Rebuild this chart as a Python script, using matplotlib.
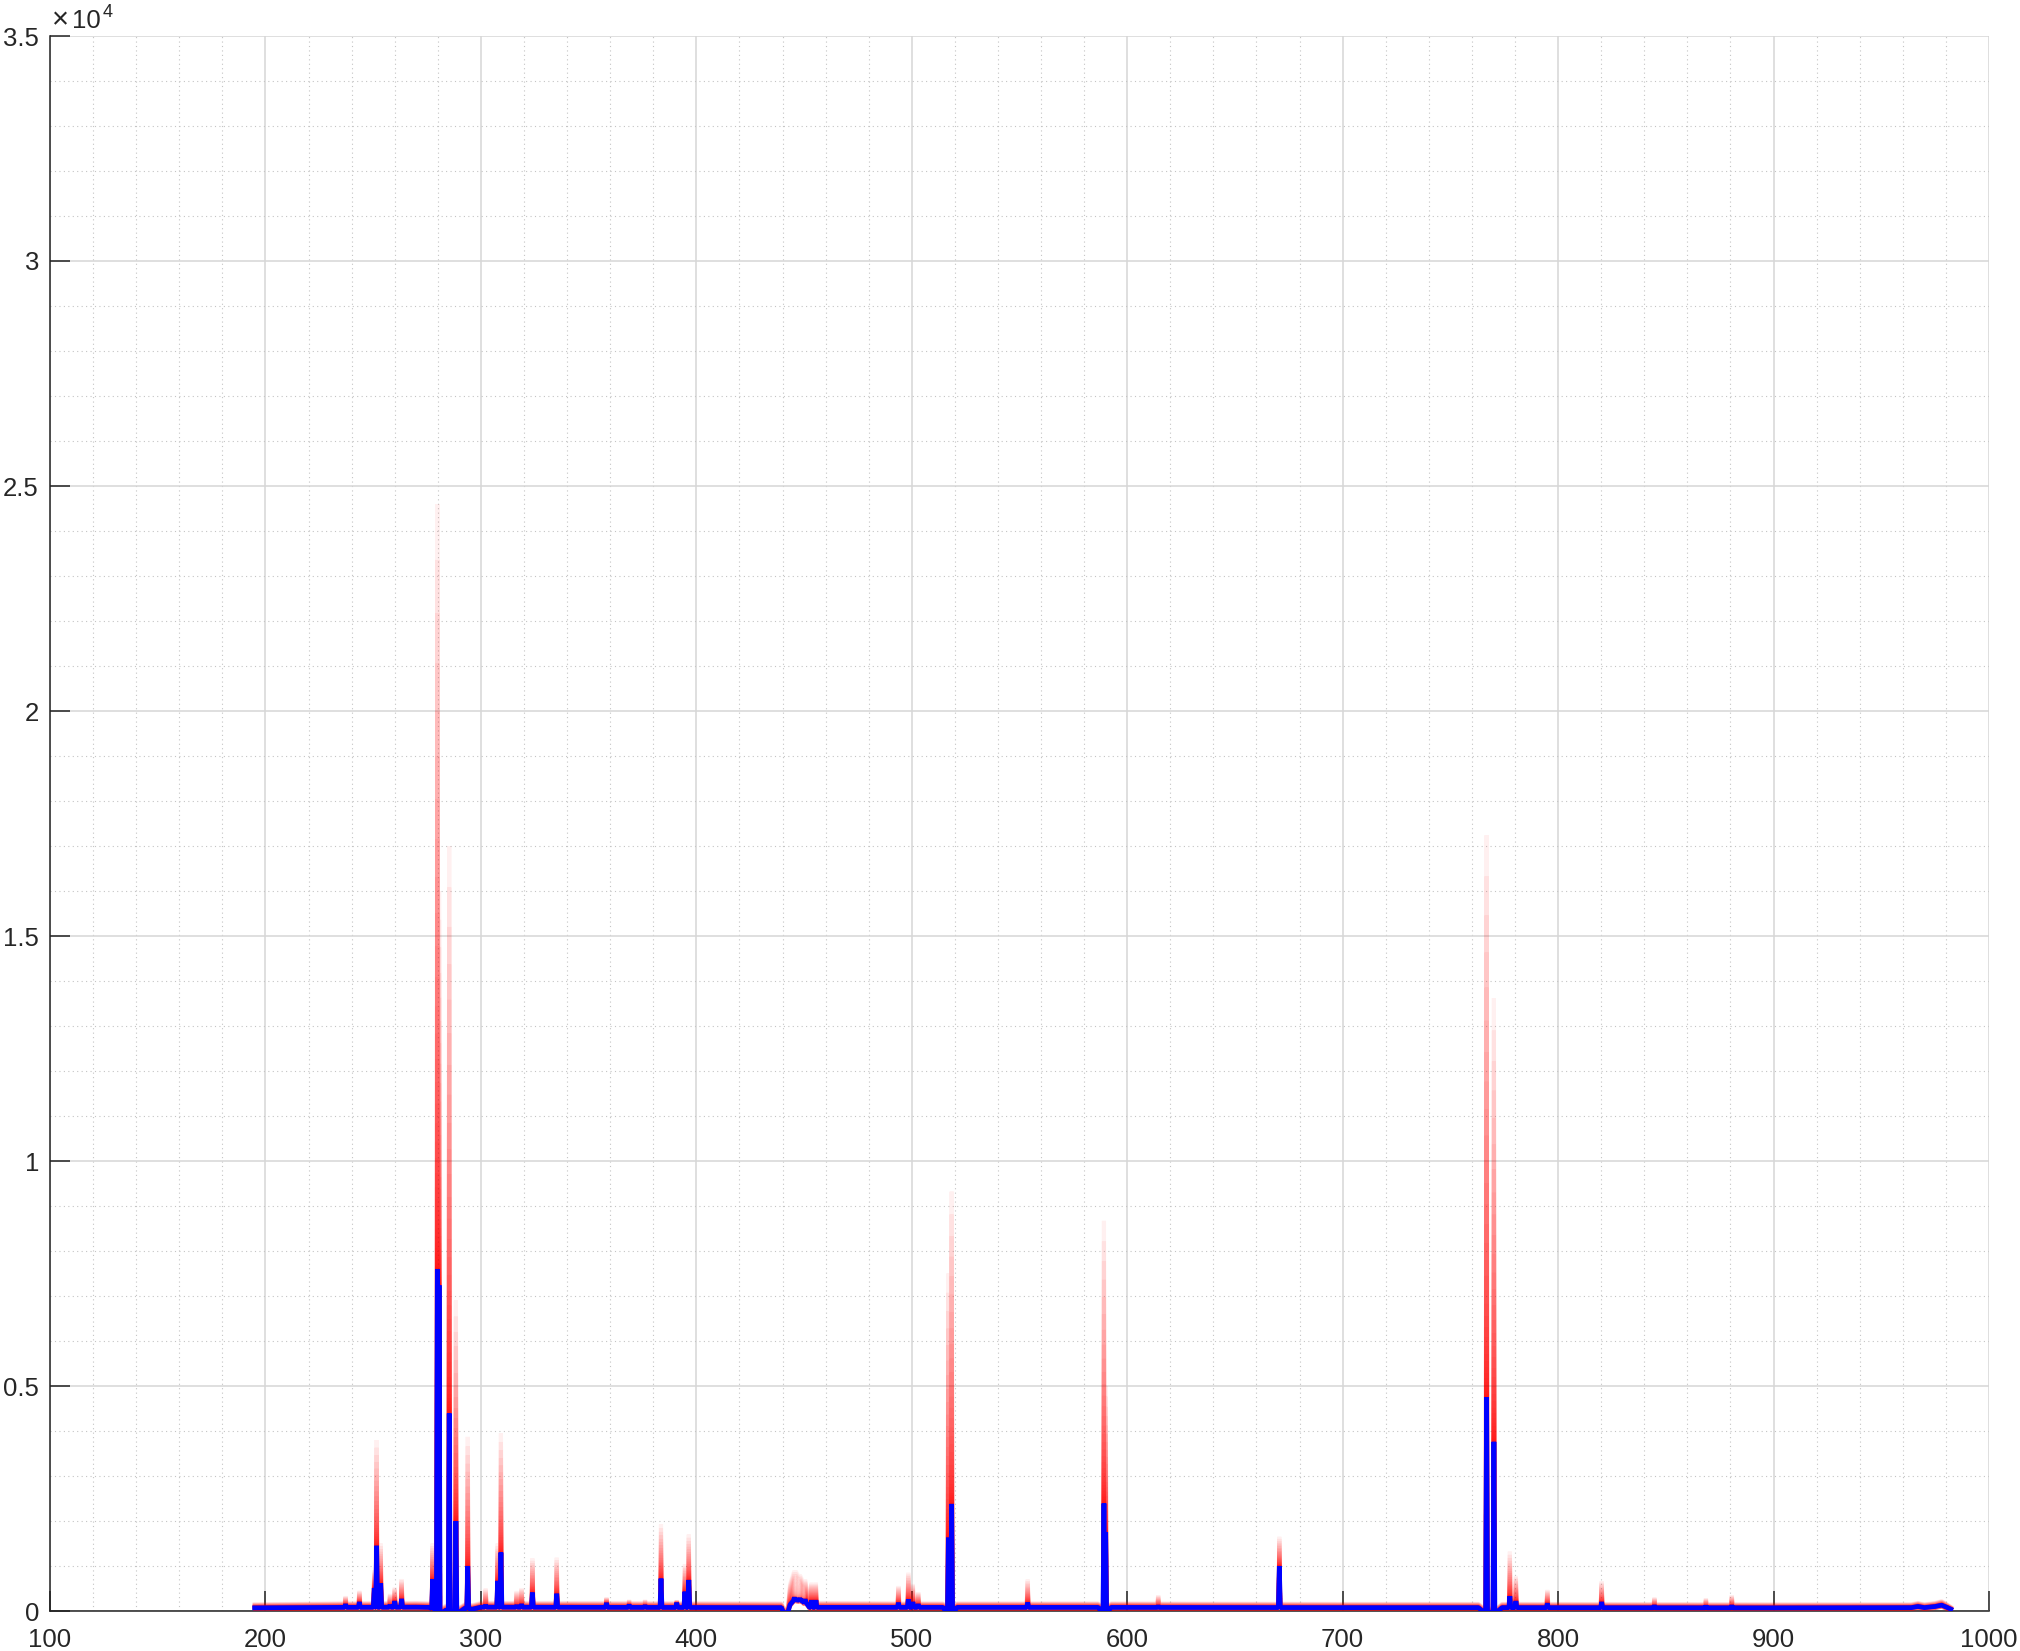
import numpy as np
import matplotlib
matplotlib.use("Agg")
import matplotlib.pyplot as plt
from matplotlib.ticker import MultipleLocator, FuncFormatter

plt.rcParams['font.family'] = ['Liberation Sans', 'DejaVu Sans']

# ---------------- data ----------------
# baseline of the mean spectrum (nm, counts) and max over shots on the baseline
base_nm = [195.0, 230.0, 270.0, 276.0, 282.2, 283.8, 286.8, 290.5, 292.5, 296.0,
           300.0, 439.5, 440.5, 442.5, 443.5, 446.0, 449.0, 451.5, 452.5, 500.0,
           514.5, 516.0, 519.6, 521.0, 586.5, 588.2, 591.0, 592.5, 700.0, 763.0,
           765.6, 768.5, 771.5, 774.0, 900.0, 964.0, 967.0, 970.0, 975.0, 978.0,
           980.5, 982.3]
base_mean = [70, 80, 85, 80, -30, 20, -30, -10, 60, 40,
             85, 75, -40, -30, 140, 250, 230, 150, 80, 80,
             80, -20, -20, 80, 80, -20, -20, 80, 75, 75,
             -30, -30, -30, 75, 70, 75, 100, 75, 100, 130,
             80, 40]
base_max = [150, 170, 180, 170, 80, 120, 70, 90, 150, 130,
            180, 170, 60, 70, 600, 890, 700, 500, 180, 170,
            170, 80, 80, 170, 170, 80, 80, 170, 160, 160,
            60, 60, 60, 160, 150, 150, 180, 150, 180, 220,
            150, 90]

# emission lines: position (nm), mean intensity (blue), max over shots (red)
peak_nm = [237.2, 243.6, 250.5, 251.6, 253.5, 257.8, 260.0, 263.2,
           277.6, 279.8, 280.6, 285.3, 288.4, 293.9, 302.2, 307.8, 309.3,
           316.6, 318.9, 323.9, 335.2, 358.3, 368.8, 376.2, 383.6, 390.9,
           394.7, 396.5, 445.5, 448.0, 450.5, 453.5, 455.5, 493.8, 498.4,
           500.5, 503.0, 517.0, 518.5, 553.8, 589.2, 590.0, 614.4, 670.6,
           766.8, 770.2, 777.6, 780.4, 795.0, 820.2, 844.7, 868.6, 880.6]
peak_mean = [150, 200, 510, 1450, 620, 130, 220, 270,
             710, 7600, 7240, 4390, 2000, 1000, 130, 670, 1300,
             120, 150, 410, 385, 180, 140, 120, 720, 185,
             430, 690, 300, 280, 260, 240, 240, 185, 260,
             200, 150, 1630, 2380, 190, 2390, 1750, 110, 1000,
             4750, 3760, 330, 220, 170, 200, 120, 110, 120]
peak_max = [330, 450, 900, 3800, 1500, 380, 520, 710,
            1500, 24600, 16000, 17000, 6900, 3870, 500, 1500, 3950,
            445, 510, 1170, 1185, 300, 240, 240, 1930, 230,
            1045, 1700, 890, 800, 700, 630, 630, 556, 850,
            600, 420, 7500, 9320, 700, 8670, 5000, 350, 1650,
            17240, 13620, 1320, 780, 470, 660, 300, 280, 350]

# ---------------- assemble the line vertices ----------------
half_w = 0.45
xs, ym, yx = [], [], []
for b_x, b_y, b_m in zip(base_nm, base_mean, base_max):
    xs.append(b_x); ym.append(b_y); yx.append(b_m)
for p, m, mx in zip(peak_nm, peak_mean, peak_max):
    b = float(np.interp(p, base_nm, base_mean))
    bm = float(np.interp(p, base_nm, base_max))
    for dx, v, vm in ((-half_w, b, bm), (0.0, m, mx), (half_w, b, bm)):
        xs.append(p + dx); ym.append(v); yx.append(vm)
order = np.argsort(xs, kind="stable")
xs = np.array(xs)[order]
ym = np.array(ym, float)[order]
yx = np.array(yx, float)[order]

# ---------------- figure ----------------
fig = plt.figure(figsize=(20.2, 16.51), dpi=100)
ax = fig.add_axes([50 / 2020, 40 / 1651, 1939 / 2020, 1575 / 1651])

# red: spread of the individual shots, drawn as a fading stack
ax.plot(xs, ym - 45, color=(1, 0, 0), lw=2.2, alpha=0.6,
        solid_joinstyle='bevel', zorder=3)
n_lev = 40
for k in range(n_lev):
    f = ((k + 1) / n_lev) ** 3
    ax.plot(xs, ym + (yx - ym) * f, color=(1, 0, 0), lw=3.0, alpha=0.06,
            solid_joinstyle='bevel', zorder=3)
# blue: mean spectrum
ax.plot(xs, ym, color=(0, 0, 1), lw=3.4, solid_joinstyle='bevel', zorder=4)

ax.set_xlim(100, 1000)
ax.set_ylim(0, 35000)
ax.xaxis.set_major_locator(MultipleLocator(100))
ax.xaxis.set_minor_locator(MultipleLocator(20))
ax.yaxis.set_major_locator(MultipleLocator(5000))
ax.yaxis.set_minor_locator(MultipleLocator(1000))
ax.yaxis.set_major_formatter(FuncFormatter(lambda v, p: f"{v / 1e4:g}"))

ax.set_axisbelow(True)
ax.grid(which='major', color='#d6d6d6', lw=1.1)
ax.grid(which='minor', color='#c4c4c4', lw=0.8, ls=(0, (1, 3)))

for s in ('top', 'right'):
    ax.spines[s].set_visible(False)
for s in ('left', 'bottom'):
    ax.spines[s].set_color('#222222')
    ax.spines[s].set_linewidth(1.1)

ax.tick_params(which='major', direction='in', length=14.5, width=1.1,
               color='#222222', labelsize=18.5, labelcolor='#262626', pad=8)
ax.tick_params(which='minor', length=0)
ax.tick_params(axis='x', pad=12)

# exponent label of the y axis
fig.text(52 / 2020, 1 - 28 / 1651, "\u00d7", fontsize=21, color='#262626',
         ha='left', va='baseline')
fig.text(72 / 2020, 1 - 28 / 1651, "10", fontsize=18.5, color='#262626',
         ha='left', va='baseline')
fig.text(103 / 2020, 1 - 17 / 1651, "4", fontsize=13, color='#262626',
         ha='left', va='baseline')

fig.savefig("out.png", dpi=100)
